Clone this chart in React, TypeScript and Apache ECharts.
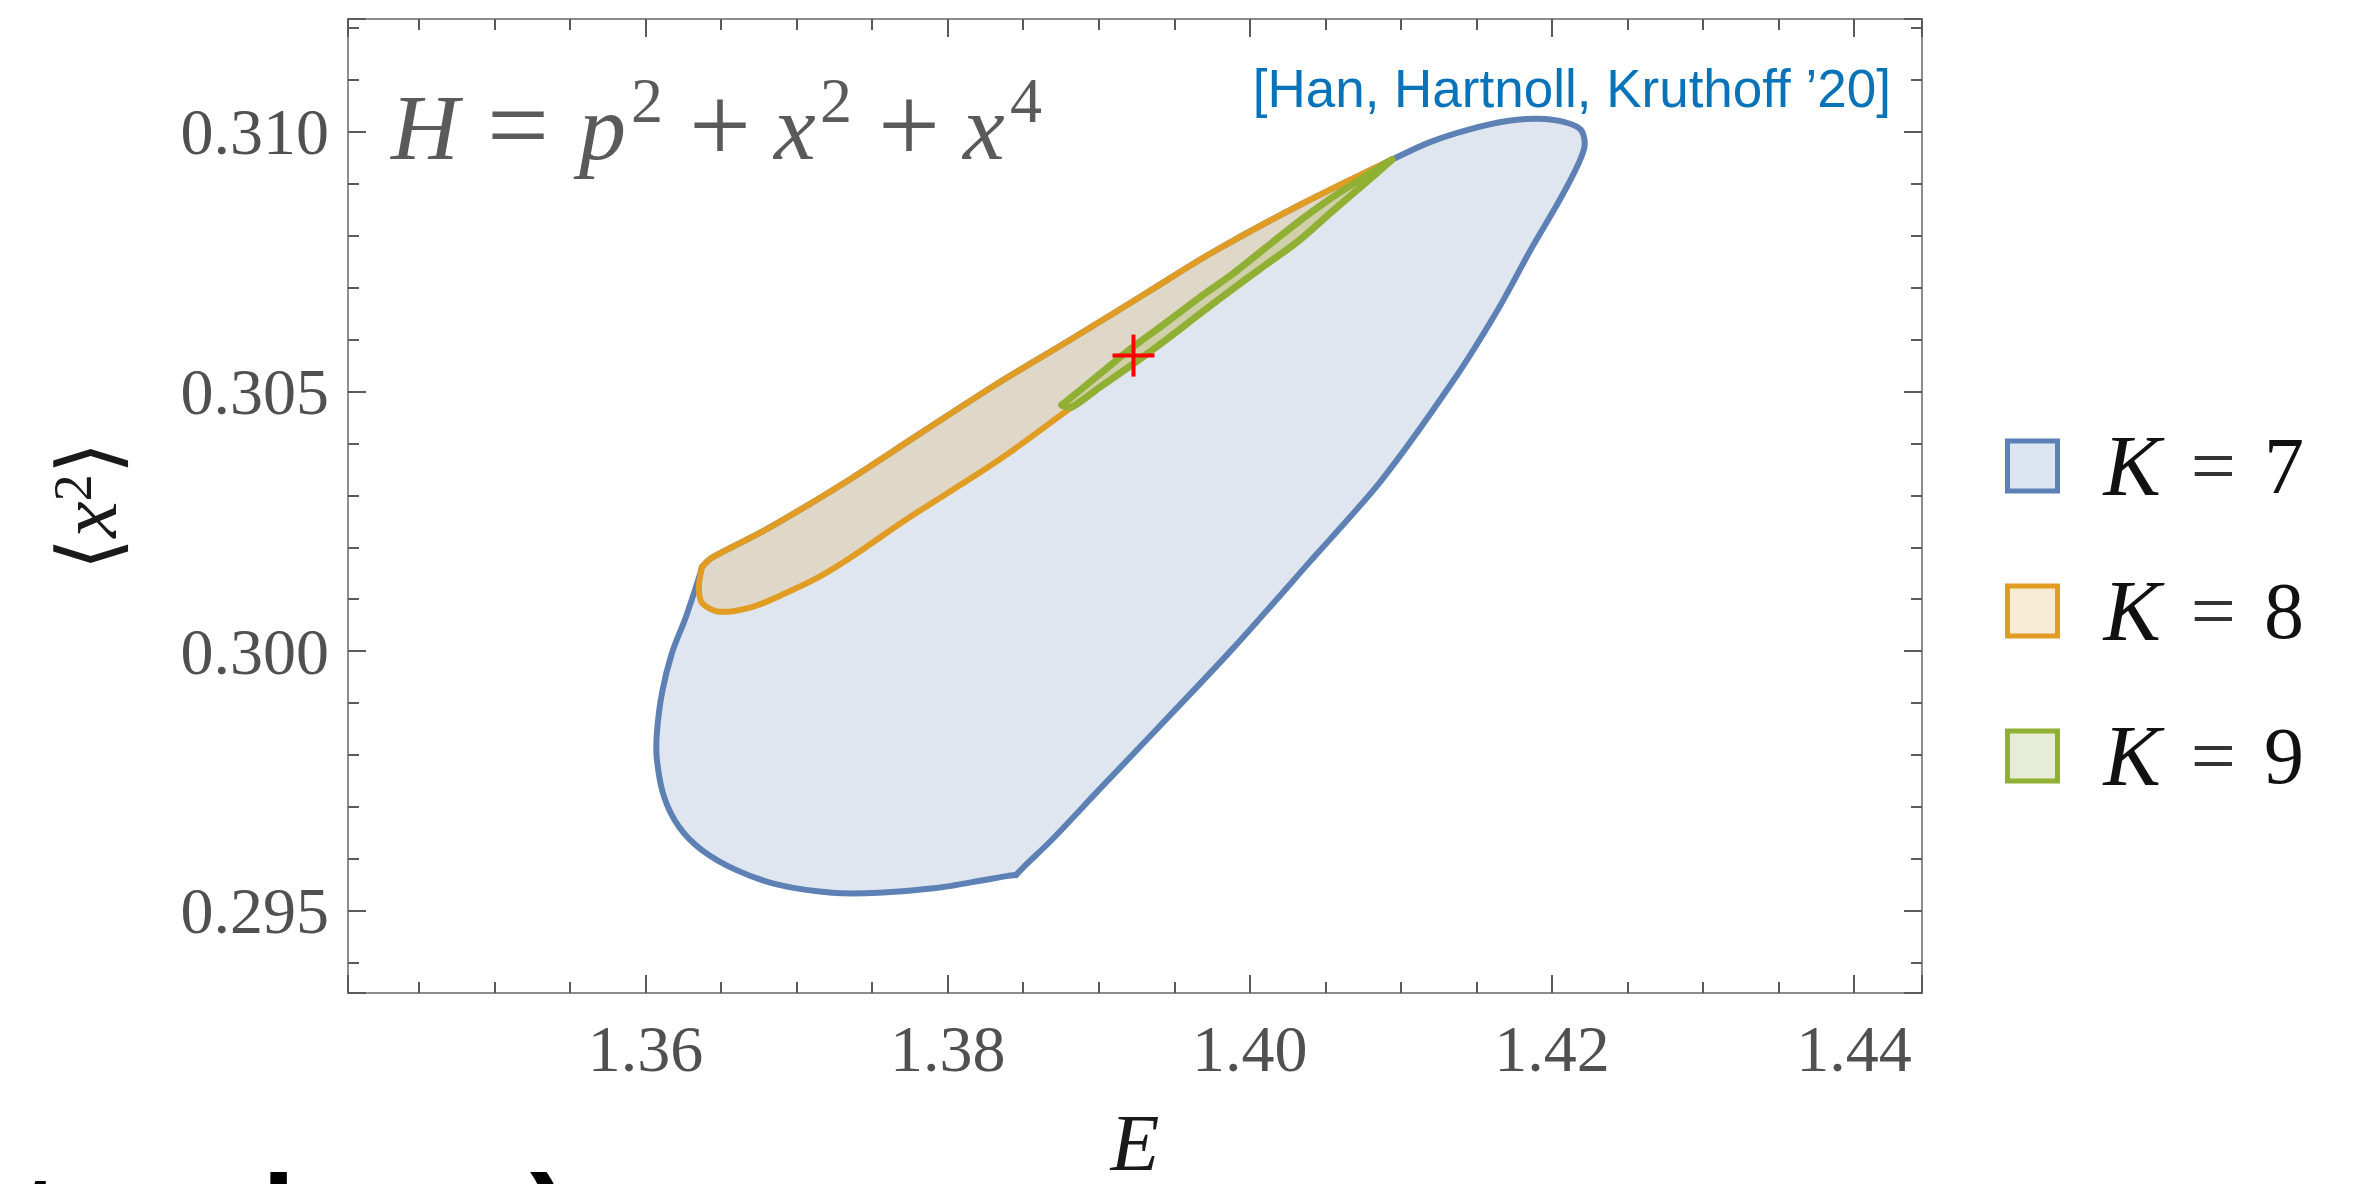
import React, { useEffect, useRef } from 'react';
import * as echarts from 'echarts';

// ---- Axis ranges / ticks ----
const E_MIN = 1.3403;
const E_MAX = 1.4445;
const E_STEP = 0.02;
const X2_MIN = 0.29342;
const X2_MAX = 0.31217;
const X2_STEP = 0.005;

// ---- K = 7 allowed region boundary (E, <x^2>) ----
const K7_E = [1.36353, 1.36267, 1.36175, 1.36109, 1.36075, 1.36075, 1.36122, 1.36221, 1.36373, 1.36598, 1.36883, 1.37234, 1.37545, 1.37922, 1.38253, 1.38392, 1.38452, 1.38504, 1.3869, 1.39001, 1.39398, 1.39881, 1.40391, 1.40874, 1.4135, 1.41641, 1.4186, 1.42052, 1.42178, 1.42217, 1.42191, 1.42078, 1.41913, 1.41714, 1.41449, 1.41185, 1.4094, 1.40324, 1.39748, 1.39318, 1.38809, 1.38306, 1.37796, 1.37293, 1.36784, 1.36439, 1.36373];
const K7_X2 = [0.30141, 0.30066, 0.29997, 0.2992, 0.29843, 0.29791, 0.2972, 0.29662, 0.29617, 0.29579, 0.2955, 0.29535, 0.29535, 0.29544, 0.2956, 0.29567, 0.29569, 0.29585, 0.29637, 0.29733, 0.29854, 0.30003, 0.3017, 0.3033, 0.30522, 0.30657, 0.30773, 0.30869, 0.3094, 0.30975, 0.31004, 0.31019, 0.31025, 0.31021, 0.31004, 0.30979, 0.30946, 0.30858, 0.30767, 0.3069, 0.30599, 0.30511, 0.30415, 0.3032, 0.30232, 0.3018, 0.30162];

// ---- K = 8 allowed region boundary ----
const K8_E = [1.36373, 1.36439, 1.36784, 1.37293, 1.37796, 1.38306, 1.38809, 1.39318, 1.39748, 1.40324, 1.4094, 1.40768, 1.40543, 1.40324, 1.40106, 1.39881, 1.39663, 1.39444, 1.39219, 1.39001, 1.38822, 1.38338, 1.37723, 1.37366, 1.37148, 1.36929, 1.36704, 1.36486, 1.36373, 1.36353];
const K8_X2 = [0.30162, 0.3018, 0.30232, 0.3032, 0.30415, 0.30511, 0.30599, 0.3069, 0.30767, 0.30858, 0.30946, 0.30902, 0.30846, 0.3079, 0.30744, 0.30696, 0.30648, 0.30599, 0.30551, 0.30507, 0.3047, 0.30368, 0.30253, 0.30182, 0.30143, 0.30112, 0.30085, 0.30076, 0.30093, 0.30124];

// ---- K = 9 allowed region boundary ----
const K9_E = [1.38756, 1.39001, 1.39219, 1.39444, 1.39663, 1.39881, 1.40106, 1.40324, 1.40543, 1.40768, 1.4094, 1.40768, 1.40543, 1.40324, 1.40106, 1.39881, 1.39663, 1.39444, 1.39219, 1.39001, 1.38822];
const K9_X2 = [0.30474, 0.30532, 0.30584, 0.30632, 0.3068, 0.30725, 0.30777, 0.30827, 0.30873, 0.30915, 0.30946, 0.30902, 0.30846, 0.3079, 0.30744, 0.30696, 0.30648, 0.30599, 0.30551, 0.30507, 0.3047];

// ---- exact value marker ----
const EXACT_E = [1.3923];
const EXACT_X2 = [0.30569];

const SERIES_NAMES = ['K = 7', 'K = 8', 'K = 9'];

// stroke pieces (index ranges along each boundary, corners split them)
const K7_SEGS = [[0, 16], [16, 46], [46, 0]];
const K8_SEGS = [[0, 10], [10, 0]];
const K9_SEGS = [[0, 10], [10, 0]];

const BLUE = '#5e81b5';
const ORANGE = '#e19c24';
const GREEN = '#8fb032';
const BLUE_FILL = 'rgba(94,129,181,0.2)';
const ORANGE_FILL = 'rgba(225,156,36,0.2)';
const GREEN_FILL = 'rgba(143,176,50,0.2)';

const SERIF = '"Liberation Serif", "Times New Roman", "DejaVu Serif", serif';
const SANS = '"Liberation Sans", Arial, sans-serif';
const TITLE_COLOR = '#5a5a5a';

function indexRange(a: number, b: number, n: number) {
  const out: number[] = [];
  let i = a;
  out.push(i);
  while (i !== b) {
    i = (i + 1) % n;
    out.push(i);
  }
  return out;
}

function region(name: string, E: number[], X2: number[], segs: number[][], stroke: string, fill: string, lw: number, z: number) {
  return {
    type: 'custom',
    name,
    xAxisIndex: 0,
    yAxisIndex: 0,
    z,
    silent: true,
    itemStyle: { color: fill, borderColor: stroke },
    data: [[E[0], X2[0]]],
    renderItem: (_p: any, api: any) => {
      const pts = E.map((e, i) => api.coord([e, X2[i]]));
      const children: any[] = [
        { type: 'polygon', shape: { points: pts }, style: { fill, stroke: 'none' } },
      ];
      segs.forEach(([a, b]) => {
        children.push({
          type: 'polyline',
          shape: { points: indexRange(a, b, pts.length).map((i) => pts[i]), smooth: 0.3 },
          style: { fill: 'none', stroke, lineWidth: lw, lineJoin: 'round', lineCap: 'round' },
        });
      });
      return { type: 'group', children };
    },
  };
}

const tickCommon = {
  axisLine: { show: true, lineStyle: { color: '#8c8c8c', width: 2 } },
  axisTick: { show: true, inside: true, length: 18, lineStyle: { color: '#5a5a5a', width: 2 } },
  splitLine: { show: false },
};

function titleText(text: string, x: number, y: number, size: number, italic: boolean) {
  return {
    type: 'text',
    x,
    y,
    silent: true,
    style: {
      text,
      fontFamily: SERIF,
      fontStyle: italic ? 'italic' : 'normal',
      fontSize: size,
      fill: TITLE_COLOR,
      align: 'left',
      verticalAlign: 'middle',
    },
  };
}

// fragments of slide text cut off at the bottom edge of the picture
function edgeText(text: string, x: number) {
  return {
    type: 'text',
    x,
    y: 1218,
    silent: true,
    style: {
      text,
      fontFamily: SANS,
      fontWeight: 'bold',
      fontSize: 120,
      fill: '#000000',
      align: 'left',
      verticalAlign: 'middle',
    },
  };
}

export default function App() {
  const ref = useRef<HTMLDivElement>(null);
  useEffect(() => {
    if (!ref.current) return;
    const chart = echarts.init(ref.current, undefined, { renderer: 'svg' });
    const xAxisBase = {
      type: 'value',
      min: E_MIN,
      max: E_MAX,
      minInterval: E_STEP,
      maxInterval: E_STEP,
      ...tickCommon,
      minorTick: { show: true, splitNumber: 4, length: 11, lineStyle: { color: '#5a5a5a', width: 2 } },
    };
    const yAxisBase = {
      type: 'value',
      min: X2_MIN,
      max: X2_MAX,
      minInterval: X2_STEP,
      maxInterval: X2_STEP,
      ...tickCommon,
      minorTick: { show: true, splitNumber: 5, length: 11, lineStyle: { color: '#5a5a5a', width: 2 } },
    };
    const labelStyle = { color: '#505050', fontFamily: SERIF, fontSize: 66 };
    const option: any = {
      animation: false,
      backgroundColor: '#ffffff',
      grid: { left: 348, right: 439, top: 19, bottom: 191, containLabel: false, outerBoundsMode: 'none' },
      xAxis: [
        {
          ...xAxisBase,
          position: 'bottom',
          name: 'E',
          nameLocation: 'middle',
          nameGap: 110,
          nameTextStyle: { fontFamily: SERIF, fontStyle: 'italic', fontSize: 80, color: '#1a1a1a' },
          axisLabel: {
            show: true,
            margin: 22,
            ...labelStyle,
            showMinLabel: false,
            showMaxLabel: false,
            formatter: (v: number) => v.toFixed(2),
          },
        },
        { ...xAxisBase, position: 'top', axisLabel: { show: false } },
      ],
      yAxis: [
        {
          ...yAxisBase,
          position: 'left',
          name: '{b|⟨}{i|x}{s|2}{b|⟩}',
          nameLocation: 'middle',
          nameRotate: 90,
          nameGap: 218,
          nameTextStyle: {
            color: '#1a1a1a',
            fontFamily: SERIF,
            fontSize: 80,
            rich: {
              b: { fontFamily: '"DejaVu Serif", serif', fontSize: 84, color: '#1a1a1a', lineHeight: 84 },
              i: { fontFamily: SERIF, fontStyle: 'italic', fontSize: 82, color: '#1a1a1a', lineHeight: 84 },
              s: { fontFamily: SERIF, fontSize: 54, color: '#1a1a1a', verticalAlign: 'top', lineHeight: 44 },
            },
          },
          axisLabel: {
            show: true,
            margin: 19,
            ...labelStyle,
            showMinLabel: false,
            showMaxLabel: false,
            formatter: (v: number) => v.toFixed(3),
          },
        },
        { ...yAxisBase, position: 'right', axisLabel: { show: false } },
      ],
      legend: {
        orient: 'vertical',
        left: 2000,
        top: 418,
        itemWidth: 50,
        itemHeight: 50,
        itemGap: 59,
        selectedMode: false,
        data: [
          { name: SERIES_NAMES[0], icon: 'rect', itemStyle: { color: '#dde6f0', borderColor: BLUE, borderWidth: 5 } },
          { name: SERIES_NAMES[1], icon: 'rect', itemStyle: { color: '#f8ebd5', borderColor: ORANGE, borderWidth: 5 } },
          { name: SERIES_NAMES[2], icon: 'rect', itemStyle: { color: '#e6ecd6', borderColor: GREEN, borderWidth: 5 } },
        ],
        formatter: (name: string) => `{k|K}{e|=}{n|${name.split('= ')[1]}}`,
        textStyle: {
          fontFamily: SERIF,
          fontSize: 78,
          color: '#111111',
          rich: {
            k: { fontFamily: SERIF, fontStyle: 'italic', fontSize: 86, color: '#111111', lineHeight: 60, padding: [0, 0, 0, 41] },
            e: { fontFamily: SERIF, fontSize: 80, color: '#333333', lineHeight: 60, padding: [0, 28, 0, 30] },
            n: { fontFamily: SERIF, fontSize: 80, color: '#111111', lineHeight: 60 },
          },
        },
      },
      graphic: [
        titleText('H', 391, 127.3, 94, true),
        titleText('=', 487, 125, 110, false),
        titleText('p', 579, 127.3, 94, true),
        titleText('2', 631, 100, 64, false),
        titleText('+', 689, 125, 110, false),
        titleText('x', 774, 127.3, 94, true),
        titleText('2', 820, 100, 64, false),
        titleText('+', 878, 125, 110, false),
        titleText('x', 963, 127.3, 94, true),
        titleText('4', 1010, 100, 64, false),
        {
          type: 'text',
          x: 1891,
          y: 88,
          silent: true,
          style: {
            text: '[Han, Hartnoll, Kruthoff ’20]',
            fontFamily: SANS,
            fontSize: 53,
            fill: '#0873b9',
            align: 'right',
            verticalAlign: 'middle',
          },
        },
        edgeText('t', 20),
        edgeText('l', 262),
        edgeText(')', 530),
      ],
      series: [
        region(SERIES_NAMES[0], K7_E, K7_X2, K7_SEGS, BLUE, BLUE_FILL, 6, 2),
        region(SERIES_NAMES[1], K8_E, K8_X2, K8_SEGS, ORANGE, ORANGE_FILL, 6, 3),
        region(SERIES_NAMES[2], K9_E, K9_X2, K9_SEGS, GREEN, GREEN_FILL, 7, 4),
        {
          type: 'custom',
          name: 'exact',
          z: 5,
          silent: true,
          xAxisIndex: 0,
          yAxisIndex: 0,
          data: EXACT_E.map((e, i) => [e, EXACT_X2[i]]),
          renderItem: (_p: any, api: any) => {
            const [cx, cy] = api.coord([api.value(0), api.value(1)]);
            const st = { stroke: '#ff0000', lineWidth: 4 };
            return {
              type: 'group',
              children: [
                { type: 'line', shape: { x1: cx - 21, y1: cy, x2: cx + 21, y2: cy }, style: st },
                { type: 'line', shape: { x1: cx, y1: cy - 21, x2: cx, y2: cy + 21 }, style: st },
              ],
            };
          },
        },
      ],
    };
    chart.setOption(option);
    return () => chart.dispose();
  }, []);
  return (
    <div
      ref={ref}
      style={{ position: 'fixed', left: 0, top: 0, width: '2361px', height: '1184px', background: '#fff' }}
    />
  );
}
